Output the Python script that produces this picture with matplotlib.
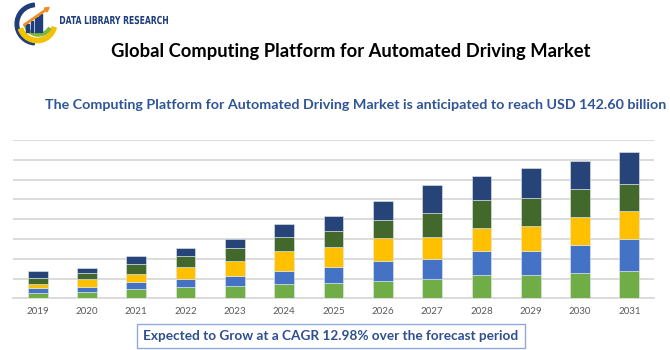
import numpy as np
import matplotlib.pyplot as plt
from matplotlib.patches import Wedge, Rectangle, FancyArrow, PathPatch
from matplotlib.textpath import TextPath
from matplotlib.font_manager import FontProperties
from matplotlib.transforms import Affine2D, IdentityTransform

# Data (arbitrary units; one gridline = 20)
years = ['2019', '2020', '2021', '2022', '2023', '2024', '2025',
         '2026', '2027', '2028', '2029', '2030', '2031']
seg1 = [5.4, 6.1, 9.8, 11.1, 12.8, 14.1, 15.8, 17.8, 19.9, 23.6, 23.9, 25.6, 27.9]
seg2 = [5.1, 5.7, 7.1, 8.1, 9.4, 13.1, 16.2, 19.5, 20.2, 24.2, 24.2, 28.3, 32.0]
seg3 = [4.4, 7.7, 8.1, 12.5, 15.5, 20.5, 19.9, 23.6, 22.2, 23.6, 24.9, 27.9, 28.3]
seg4 = [6.1, 6.1, 10.1, 10.8, 13.5, 13.8, 16.2, 18.2, 23.9, 27.9, 28.3, 28.3, 27.6]
seg5 = [6.1, 5.4, 7.4, 8.8, 8.8, 13.1, 15.5, 19.2, 27.9, 23.9, 30.6, 29.0, 32.0]

segments = [seg1, seg2, seg3, seg4, seg5]
colors = ['#70AD47', '#4472C4', '#FFC000', '#43682B', '#264478']

W, H = 670, 350
fig = plt.figure(figsize=(W / 100, H / 100), dpi=100)

# main chart area
ax = fig.add_axes([13 / W, 1 - 298.3 / H, 641 / W, 158.3 / H])
x = np.arange(len(years))
bottom = np.zeros(len(years))
for vals, c in zip(segments, colors):
    ax.bar(x, vals, 0.4, bottom=bottom, color=c, edgecolor='#E4E9F0',
           linewidth=0.4, zorder=3)
    bottom += np.array(vals)

ax.set_xlim(-0.5, len(years) - 0.5)
ax.set_ylim(0, 160)
ax.set_yticks(np.arange(0, 161, 20))
ax.yaxis.grid(True, color='#D9D9D9', linewidth=1.3, zorder=0)
ax.set_yticklabels([])
ax.set_xticks(x)
ax.set_xticklabels(years, fontsize=7, color='#595959', family='Lato')
ax.tick_params(axis='both', length=0, pad=6)
for s in ['top', 'right', 'left']:
    ax.spines[s].set_visible(False)
ax.spines['bottom'].set_color('#D9D9D9')
ax.spines['bottom'].set_linewidth(1.3)

# titles
fig.text(351 / W, 1 - 51 / H, 'Global Computing Platform for Automated Driving Market',
         ha='center', va='center', fontsize=13.2, fontweight='bold',
         family='Lato', color='black')
fig.text(355.5 / W, 1 - 105 / H,
         'The Computing Platform for Automated Driving Market is anticipated to reach USD 142.60 billion',
         ha='center', va='center', fontsize=10.3, fontweight='bold',
         family='Lato', color='#2F5597')

# bottom box
fig.text(331 / W, 1 - 336 / H,
         'Expected to Grow at a CAGR 12.98% over the forecast period',
         ha='center', va='center', fontsize=9.8, fontweight='bold',
         family='Lato', color='#2F4F8F',
         bbox=dict(boxstyle='square,pad=0.45', facecolor='white',
                   edgecolor='#8FAADC', linewidth=1))

# logo
lg = fig.add_axes([14 / W, 1 - 46 / H, 44 / W, 44 / H])
lg.set_xlim(-1, 1)
lg.set_ylim(-1, 1)
lg.set_aspect('equal')
lg.axis('off')
lg.add_patch(Wedge((0, 0), 0.95, 95, 265, width=0.16, color='#1F3D7A'))
lg.add_patch(Wedge((0.05, 0.05), 0.9, 200, 345, width=0.2, color='#F2C200'))
lg.add_patch(Wedge((0.1, 0.1), 0.65, 190, 330, width=0.12, color='#7DB742'))
for i, h in enumerate([0.35, 0.5, 0.65, 0.8]):
    lg.add_patch(Rectangle((-0.45 + i * 0.2, -0.35), 0.13, h, color='#1F3D7A'))
lg.add_patch(FancyArrow(-0.55, -0.05, 1.15, 0.8, width=0.06, head_width=0.22,
                        head_length=0.2, color='#F28C28', length_includes_head=True))

# condensed logo text, squeezed to the reference width
tp = TextPath((0, 0), 'DATA LIBRARY RESEARCH', size=11,
              prop=FontProperties(family='DejaVu Sans', weight='bold'))
ext = tp.get_extents()
sx = 108 / ext.width
tr = Affine2D().translate(-ext.x0, 0).scale(sx, 1).translate(60, H - 24) + IdentityTransform()
fig.patches.append(PathPatch(tp, transform=tr, facecolor='#1F3D7A',
                             edgecolor='none', figure=fig))

fig.savefig('out.png', dpi=100)
